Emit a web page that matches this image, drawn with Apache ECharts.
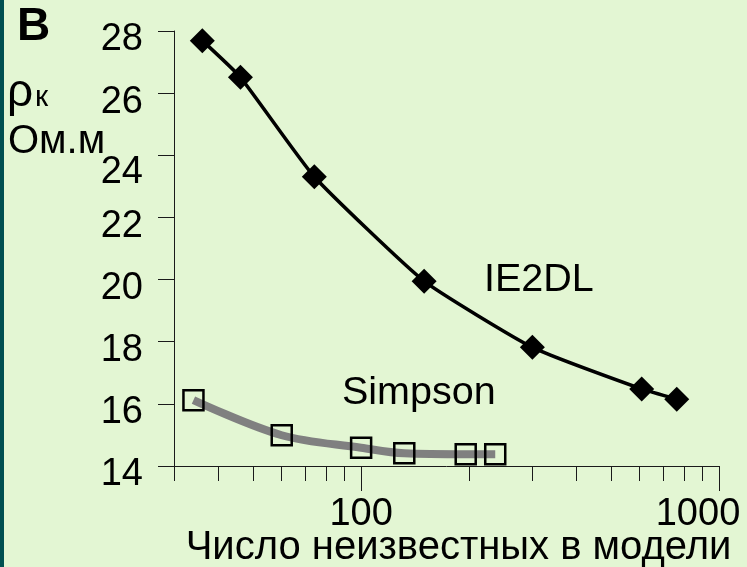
<!DOCTYPE html>
<html>
<head>
<meta charset="utf-8">
<script src="https://cdn.jsdelivr.net/npm/echarts@6/dist/echarts.min.js"></script>
<style>
html,body{margin:0;padding:0;background:#e3f6d3;}
#chart{width:747px;height:567px;}
</style>
</head>
<body>
<div id="chart"></div>
<script>
// число неизвестных (log axis) and rho_k values
var ie2dlN = [36, 46, 74, 150, 301, 608, 762];
var ie2dlRho = [27.69, 26.51, 23.31, 19.95, 17.82, 16.48, 16.15];
var simpsonN = [34, 60, 100, 132, 196, 237];
var simpsonRho = [16.12, 14.99, 14.59, 14.41, 14.38, 14.38];
var xMinorTicks = [30, 40, 50, 60, 70, 80, 90, 200, 300, 400, 500, 600, 700, 800, 900];
var xMajorTicks = [100, 1000];

var FONT = "'Liberation Sans', Arial, sans-serif";
var AX = '#1a1a1a';

function lg(v){ return Math.log10(v); }
function pairs(xs, ys){
	return xs.map(function(x, i){ return [lg(x), ys[i]]; });
}

var chart = echarts.init(document.getElementById('chart'));

var option = {
	backgroundColor: '#e3f6d3',
	animation: false,
	grid: {
		left: 174, right: 28, top: 31, bottom: 101,
		outerBoundsMode: 'none'
	},
	xAxis: [
		{
			type: 'value',
			min: lg(30), max: 3,
			position: 'bottom',
			axisLine: {show: true, onZero: false, lineStyle: {color: AX, width: 1}},
			axisTick: {show: true, customValues: xMinorTicks.map(lg), length: 15, lineStyle: {color: AX, width: 1}},
			axisLabel: {
				show: true,
				customValues: xMajorTicks.map(lg),
				margin: 49,
				verticalAlign: 'middle',
				fontSize: 38, fontFamily: FONT, color: '#000',
				formatter: function(v){
					var n = Math.round(Math.pow(10, v));
					return n === 1000 ? '{r|1000}' : '' + n;
				},
				rich: {
					r: {fontSize: 38, fontFamily: FONT, color: '#000', padding: [0, 42, 0, 0]}
				}
			},
			splitLine: {show: false}
		},
		{
			type: 'value',
			min: lg(30), max: 3,
			position: 'bottom',
			axisLine: {show: false},
			axisTick: {show: true, customValues: xMajorTicks.map(lg), length: 25, lineStyle: {color: AX, width: 1}},
			axisLabel: {show: false},
			splitLine: {show: false}
		}
	],
	yAxis: {
		type: 'value',
		min: 14, max: 28, interval: 2,
		axisLine: {show: true, lineStyle: {color: AX, width: 1}},
		axisTick: {show: true, length: 16, lineStyle: {color: AX, width: 1}},
		axisLabel: {
			margin: 31,
			fontSize: 38, fontFamily: FONT, color: '#000',
			verticalAlign: 'middle',
			padding: [18, 0, 0, 0],
			formatter: function(v){ return v === 24 ? '{b|24}' : '' + v; },
			rich: {
				b: {fontSize: 38, fontFamily: FONT, color: '#000', padding: [16, 0, 0, 0]}
			}
		},
		splitLine: {show: false}
	},
	series: [
		{
			name: 'Simpson',
			type: 'line',
			data: pairs(simpsonN, simpsonRho),
			smooth: 0.35,
			symbol: 'rect',
			symbolSize: 20,
			lineStyle: {color: '#808080', width: 8},
			itemStyle: {color: 'rgba(0,0,0,0)', borderColor: '#000', borderWidth: 2.5}
		},
		{
			name: 'IE2DL',
			type: 'line',
			data: pairs(ie2dlN, ie2dlRho),
			smooth: 0.15,
			symbol: 'diamond',
			symbolSize: 25,
			lineStyle: {color: '#000', width: 3.5},
			itemStyle: {color: '#000'}
		}
	],
	graphic: [
		{type: 'rect', shape: {x: 0, y: 0, width: 4, height: 567}, style: {fill: '#005050'}},
		{type: 'text', x: 17, y: 27.4, style: {text: 'В', font: 'bold 46px ' + FONT, fill: '#000', align: 'left', verticalAlign: 'middle'}},
		{type: 'text', x: 7, y: 93, style: {text: 'ρ', font: '46px ' + FONT, fill: '#000', align: 'left', verticalAlign: 'middle'}},
		{type: 'text', x: 35, y: 97.6, style: {text: 'к', font: '30px ' + FONT, fill: '#000', align: 'left', verticalAlign: 'middle'}},
		{type: 'text', x: 8, y: 142.1, style: {text: 'Ом.м', font: '40px ' + FONT, fill: '#000', align: 'left', verticalAlign: 'middle'}},
		{type: 'text', x: 484, y: 280.6, style: {text: 'IE2DL', font: '39.5px ' + FONT, fill: '#000', align: 'left', verticalAlign: 'middle'}},
		{type: 'text', x: 342, y: 393, style: {text: 'Simpson', font: '39.5px ' + FONT, fill: '#000', align: 'left', verticalAlign: 'middle'}},
		{type: 'text', x: 458.5, y: 547.8, style: {text: 'Число неизвестных в модели', font: '40px ' + FONT, fill: '#000', align: 'center', verticalAlign: 'middle'}}
	]
};

chart.setOption(option);
</script>
</body>
</html>
